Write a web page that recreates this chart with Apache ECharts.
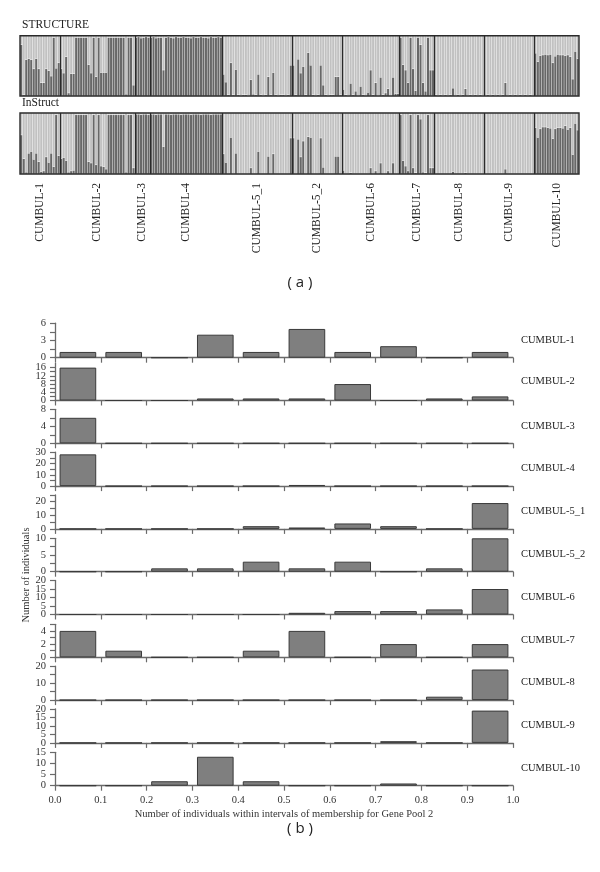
<!DOCTYPE html>
<html><head><meta charset="utf-8">
<script src="https://cdn.jsdelivr.net/npm/echarts@6/dist/echarts.min.js"></script>
<style>html,body{margin:0;padding:0;background:#fff}#c{width:600px;height:872px}</style>
</head><body><div id="c"></div>
<script>
// ---------- DATA ----------
const popNames = ['CUMBUL-1','CUMBUL-2','CUMBUL-3','CUMBUL-4','CUMBUL-5_1','CUMBUL-5_2','CUMBUL-6','CUMBUL-7','CUMBUL-8','CUMBUL-9','CUMBUL-10'];

// membership in gene pool 1 (dark) per individual, STRUCTURE
const structureDark = [
  [0.85,0.02,0.6,0.62,0.6,0.45,0.62,0.45,0.22,0.22,0.45,0.42,0.33,0.97,0.46,0.55],
  [0.45,0.38,0.65,0.05,0.37,0.37,0.97,0.97,0.97,0.97,0.97,0.52,0.38,0.97,0.32,0.97,0.39,0.39,0.39,0.97,0.97,0.97,0.97,0.97,0.97,0.97,0.03,0.97,0.97,0.18],
  [0.97,0.98,0.96,0.97,0.98,0.97],
  [0.97,0.98,0.96,0.97,0.97,0.43,0.97,0.98,0.97,0.96,0.98,0.97,0.97,0.98,0.97,0.97,0.96,0.98,0.97,0.97,0.98,0.97,0.97,0.96,0.98,0.97,0.97,0.98,0.97],
  [0.36,0.23,0.02,0.55,0.02,0.44,0.02,0.01,0.02,0.02,0.01,0.27,0.03,0.02,0.36,0.02,0.01,0.02,0.32,0.02,0.39,0.02,0.01,0.02,0.02,0.01,0.02,0.51],
  [0.51,0.02,0.61,0.38,0.49,0.02,0.72,0.51,0.02,0.01,0.02,0.51,0.18,0.02,0.01,0.02,0.02,0.32,0.32,0.02],
  [0.11,0.02,0.01,0.21,0.02,0.08,0.01,0.16,0.02,0.01,0.06,0.43,0.02,0.22,0.01,0.31,0.02,0.05,0.12,0.01,0.31,0.04,0.04],
  [0.97,0.52,0.43,0.22,0.97,0.45,0.09,0.97,0.85,0.22,0.08,0.97,0.43,0.43],
  [0.02,0.01,0.02,0.01,0.02,0.01,0.02,0.13,0.01,0.02,0.01,0.02,0.12,0.01,0.02,0.01,0.02,0.01,0.02,0.01],
  [0.01,0.02,0.01,0.02,0.01,0.02,0.01,0.02,0.22,0.01,0.02,0.01,0.02,0.01,0.02,0.01,0.02,0.01,0.02,0.01],
  [0.71,0.57,0.67,0.68,0.69,0.68,0.69,0.55,0.66,0.69,0.68,0.68,0.67,0.68,0.65,0.28,0.74,0.62]
];

// membership in gene pool 1 (dark) per individual, InStruct
const instructDark = [
  [0.64,0.25,0.03,0.34,0.37,0.24,0.34,0.2,0.04,0.05,0.28,0.19,0.34,0.12,0.97,0.3],
  [0.25,0.27,0.22,0.03,0.05,0.06,0.97,0.97,0.97,0.97,0.97,0.2,0.18,0.97,0.15,0.97,0.13,0.12,0.08,0.97,0.97,0.97,0.97,0.97,0.97,0.97,0.03,0.97,0.97,0.1],
  [0.98,0.98,0.97,0.98,0.98,0.97],
  [0.98,0.98,0.97,0.98,0.98,0.45,0.98,0.98,0.97,0.98,0.98,0.98,0.97,0.98,0.98,0.98,0.97,0.98,0.98,0.98,0.97,0.98,0.98,0.98,0.97,0.98,0.98,0.98,0.98],
  [0.33,0.19,0.01,0.6,0.01,0.34,0.01,0.01,0.01,0.01,0.01,0.1,0.01,0.01,0.37,0.01,0.01,0.01,0.29,0.01,0.33,0.01,0.01,0.01,0.01,0.01,0.01,0.59],
  [0.59,0.01,0.57,0.28,0.54,0.01,0.61,0.6,0.01,0.01,0.01,0.59,0.11,0.01,0.01,0.01,0.01,0.29,0.29,0.01],
  [0.06,0.01,0.01,0.02,0.01,0.01,0.01,0.01,0.01,0.01,0.01,0.1,0.01,0.05,0.01,0.18,0.01,0.01,0.05,0.01,0.18,0.01,0.01],
  [0.97,0.22,0.13,0.05,0.97,0.1,0.02,0.97,0.9,0.03,0.02,0.97,0.1,0.1],
  [0.01,0.01,0.01,0.01,0.01,0.01,0.01,0.04,0.01,0.01,0.01,0.01,0.02,0.01,0.01,0.01,0.01,0.01,0.01,0.01],
  [0.01,0.01,0.01,0.01,0.01,0.01,0.01,0.01,0.08,0.01,0.01,0.01,0.01,0.01,0.01,0.01,0.01,0.01,0.01,0.01],
  [0.76,0.6,0.74,0.77,0.77,0.76,0.75,0.58,0.74,0.76,0.76,0.75,0.79,0.73,0.76,0.32,0.83,0.72]
];

// histogram: number of individuals per 0.1 interval of membership for Gene Pool 2
const histBins = ['0.0-0.1','0.1-0.2','0.2-0.3','0.3-0.4','0.4-0.5','0.5-0.6','0.6-0.7','0.7-0.8','0.8-0.9','0.9-1.0'];
const histCounts = [
  [1,1,0,4,1,5,1,2,0,1],
  [16,0,0,1,1,1,8,0,1,2],
  [6,0,0,0,0,0,0,0,0,0],
  [28,0,0,0,0,1,0,0,0,0],
  [0,0,0,0,2,1,4,2,0,19],
  [0,0,1,1,3,1,3,0,1,10],
  [0,0,0,0,0,1,2,2,3,15],
  [4,1,0,0,1,4,0,2,0,2],
  [0,0,0,0,0,0,0,0,2,18],
  [0,0,0,0,0,0,0,1,0,19],
  [0,0,2,13,2,0,0,1,0,0]
];
// y-axis tick labels per panel
const histYMax = [6,18,8,30,25,10,20,5,20,20,15];
const histYLabels = [[0,3,6],[0,4,8,12,16],[0,4,8],[0,10,20,30],[0,10,20],[0,5,10],[0,5,10,15,20],[0,2,4],[0,10,20],[0,5,10,15,20],[0,5,10,15]];
const histYMinor = [[1.5,4.5],[2,6,10,14],[2,6],[5,15,25],[5,15,25],[2.5,7.5],[],[1,3,5],[5,15],[],[]];
const xTickLabels = [0,0.1,0.2,0.3,0.4,0.5,0.6,0.7,0.8,0.9,1.0];

// ---------- LAYOUT ----------
const SERIF = '"Liberation Serif", "DejaVu Serif", serif';
const sLeft = 20, sWidth = 559;
const gridS = {left: sLeft, top: 35.7, width: sWidth, height: 60.3};
const gridI = {left: sLeft, top: 113, width: sWidth, height: 61};
const hLeft = 55, hWidth = 458;
const zero0 = 357.7, zeroStep = 42.8;
const histH = [34.5,37,34,34,34,33.4,34,33,34,34,33.4];

const sizes = structureDark.map(a => a.length);
const cum = []; sizes.reduce((s, n) => { cum.push(s + n); return s + n; }, 0);
const total = cum[cum.length - 1];
const mids = sizes.map((n, i) => cum[i] - n / 2);
const flatS = [].concat(...structureDark);
const flatI = [].concat(...instructDark);
const idx = flatS.map((_, i) => i);

const grids = [], xAxes = [], yAxes = [], series = [], graphics = [];
const DARK = '#676767', LIGHT = '#c1c1c1';

function structurePanel(g, dark, withLabels) {
  const gi = grids.length;
  grids.push(Object.assign({containLabel: false, outerBoundsMode: 'none'}, g));
  const xc = xAxes.length;
  xAxes.push({gridIndex: gi, type: 'category', data: idx, show: false, position: 'bottom', boundaryGap: true});
  const xv = xAxes.length;
  xAxes.push({gridIndex: gi, type: 'value', min: 0, max: total, show: withLabels, position: 'bottom', z: 20,
    axisLine: {show: false, onZero: false}, axisTick: {show: false}, splitLine: {show: false},
    axisLabel: {show: withLabels, customValues: mids, rotate: 90, margin: 9,
      formatter: v => { const k = mids.indexOf(v); return k >= 0 ? popNames[k] : ''; },
      fontFamily: SERIF, fontSize: 11.5, color: '#222'}});
  const yi = yAxes.length;
  yAxes.push({gridIndex: gi, type: 'value', min: 0, max: 1, show: false});
  series.push({type: 'bar', xAxisIndex: xc, yAxisIndex: yi, stack: 'g' + gi, data: dark,
    barCategoryGap: '0%', itemStyle: {color: DARK, borderColor: 'rgba(255,255,255,0.07)', borderWidth: 0.4}, silent: true, animation: false});
  series.push({type: 'bar', xAxisIndex: xc, yAxisIndex: yi, stack: 'g' + gi, data: dark.map(d => +(1 - d).toFixed(3)),
    barCategoryGap: '0%', itemStyle: {color: LIGHT, borderColor: 'rgba(255,255,255,0.14)', borderWidth: 0.4}, silent: true, animation: false});
  series.push({type: 'line', xAxisIndex: xv, yAxisIndex: yi, data: [], silent: true, animation: false,
    markLine: {silent: true, symbol: ['none', 'none'], label: {show: false}, animation: false,
      lineStyle: {color: '#2a2a2a', width: 1.2, type: 'solid'},
      data: cum.slice(0, -1).map(b => ({xAxis: b}))}});
  graphics.push({type: 'rect', silent: true, z: 100,
    shape: {x: g.left, y: g.top, width: g.width, height: g.height},
    style: {fill: 'none', stroke: '#2a2a2a', lineWidth: 1.4}});
}
structurePanel(gridS, flatS, false);
structurePanel(gridI, flatI, true);

const yLabelStyle = {fontFamily: SERIF, fontSize: 10.5, color: '#333', margin: 9, showMinLabel: true, showMaxLabel: true, hideOverlap: false};

histCounts.forEach((counts, i) => {
  const zero = zero0 + zeroStep * i;
  const h = histH[i];
  const gi = grids.length;
  grids.push({left: hLeft, width: hWidth, top: zero - h, height: h, containLabel: false, outerBoundsMode: 'none'});
  const xc = xAxes.length;
  xAxes.push({gridIndex: gi, type: 'category', data: histBins, show: false, position: 'bottom', boundaryGap: true});
  const last = i === histCounts.length - 1;
  xAxes.push({gridIndex: gi, type: 'value', min: 0, max: 1, interval: 0.1, position: 'bottom',
    axisLine: {show: true, onZero: false, lineStyle: {color: '#6a6a6a', width: 1.3}},
    axisTick: {show: true, length: 5, customValues: xTickLabels, lineStyle: {color: '#6a6a6a', width: 1.2}},
    axisLabel: {show: last, customValues: xTickLabels, formatter: v => v.toFixed(1), fontFamily: SERIF, fontSize: 10.5, color: '#333', margin: 9},
    splitLine: {show: false},
    name: last ? 'Number of individuals within intervals of membership for Gene Pool 2' : '',
    nameLocation: 'middle', nameGap: 23, nameTextStyle: {fontFamily: SERIF, fontSize: 10.5, color: '#333'}});
  const labs = histYLabels[i];
  const evenLabs = labs.filter((_, k) => k % 2 === 0);
  const oddLabs = labs.filter((_, k) => k % 2 === 1);
  const yi = yAxes.length;
  yAxes.push({gridIndex: gi, type: 'value', min: 0, max: histYMax[i], position: 'left',
    axisLine: {show: true, onZero: false, lineStyle: {color: '#6a6a6a', width: 1.3}},
    axisTick: {show: true, length: 5, customValues: labs.concat(histYMinor[i]), lineStyle: {color: '#6a6a6a', width: 1.2}},
    axisLabel: Object.assign({customValues: evenLabs}, yLabelStyle),
    splitLine: {show: false}});
  if (oddLabs.length) {
    yAxes.push({gridIndex: gi, type: 'value', min: 0, max: histYMax[i], position: 'left', offset: 0,
      axisLine: {show: false}, axisTick: {show: false},
      axisLabel: Object.assign({customValues: oddLabs}, yLabelStyle),
      splitLine: {show: false}});
  }
  series.push({type: 'bar', xAxisIndex: xc, yAxisIndex: yi, data: counts, barWidth: '80%', silent: true, animation: false,
    itemStyle: {color: '#7f7f7f', borderColor: '#3a3a3a', borderWidth: 1}});
  graphics.push({type: 'text', left: 521, top: zero - h / 2 - 6, silent: true,
    style: {text: popNames[i], fontFamily: SERIF, fontSize: 10.5, fill: '#222'}});
});

graphics.push({type: 'text', left: 22, top: 19, style: {text: 'STRUCTURE', fontFamily: SERIF, fontSize: 11.5, fill: '#222'}});
graphics.push({type: 'text', left: 22, top: 97, style: {text: 'InStruct', fontFamily: SERIF, fontSize: 11.5, fill: '#222'}});
graphics.push({type: 'text', x: 300, y: 283, style: {text: '( a )', fontFamily: '"Open Sans", "Noto Sans", sans-serif', fontSize: 15, fill: '#222', align: 'center', verticalAlign: 'middle'}});
graphics.push({type: 'text', x: 300, y: 829, style: {text: '( b )', fontFamily: '"Open Sans", "Noto Sans", sans-serif', fontSize: 15, fill: '#222', align: 'center', verticalAlign: 'middle'}});
graphics.push({type: 'text', x: 26, y: 575, rotation: Math.PI / 2, style: {text: 'Number of individuals', fontFamily: SERIF, fontSize: 10.5, fill: '#333', align: 'center', verticalAlign: 'middle'}});

const chart = echarts.init(document.getElementById('c'), null, {renderer: 'canvas'});
chart.setOption({animation: false, backgroundColor: '#fff', grid: grids, xAxis: xAxes, yAxis: yAxes, series: series, graphic: graphics});
</script>
</body></html>
